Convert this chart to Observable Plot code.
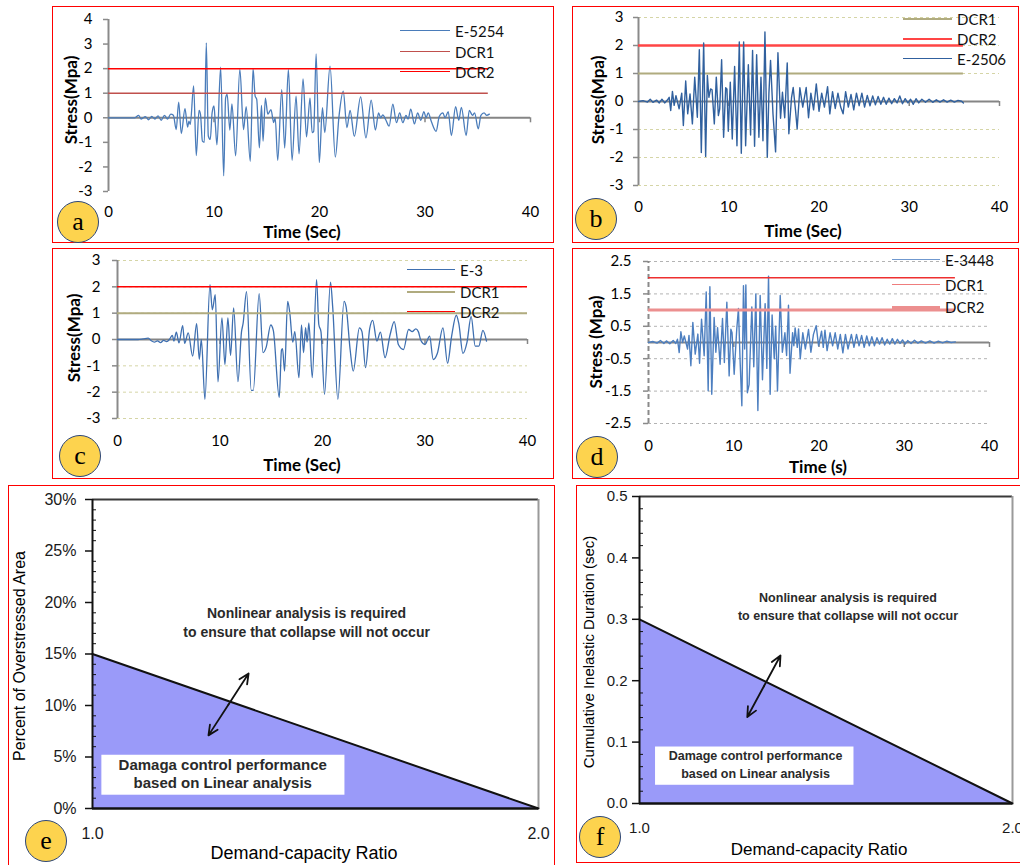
<!DOCTYPE html>
<html><head><meta charset="utf-8">
<script src="https://cdn.jsdelivr.net/npm/d3@7"></script>
<script src="https://cdn.jsdelivr.net/npm/@observablehq/plot@0.6"></script>
<style>
body{margin:0;background:#fff;width:1020px;height:865px;overflow:hidden;position:relative;font-family:Lato,sans-serif}
.border{position:absolute;border:1.5px solid #f00;box-sizing:border-box}
.plot{position:absolute}
.plot svg{background:transparent!important;overflow:visible}
.ttl{position:absolute;white-space:nowrap;transform:translate(-50%,-50%);color:#000}
.ytl{position:absolute;white-space:nowrap;transform:translate(-50%,-50%) rotate(-90deg);color:#000}
.legline{position:absolute;height:0}
.legtext{position:absolute;transform:translateY(-50%);font-size:15px;white-space:nowrap;color:#111}
.badge{position:absolute;border-radius:50%;background:#fdd34e;border:1.5px solid #2d4677;box-sizing:border-box;display:flex;align-items:center;justify-content:center;font-family:"Liberation Serif",serif;font-size:26px;color:#000;line-height:1}
</style></head><body>
<script>
// ---------------- data ----------------
const timeTicks = [0, 10, 20, 30, 40];
const axisTickTimes = [10, 20, 30, 40];

const namesA = ["E-5254", "DCR1", "DCR2"];
const dcrA = [1, 2];          // DCR1, DCR2
const yTicksA = [-3, -2, -1, 0, 1, 2, 3, 4];
const seriesA = [[0,0],[2.5,0],[2.85,0.1],[3.1,-0.05],[3.5,0.05],[3.8,-0.08],[4.1,0.06],[4.4,-0.05],[4.7,0.08],[5.0,-0.1],[5.3,0.1],[5.6,-0.05],[5.9,0.15],[6.15,0.1],[6.42,-0.48],[6.65,0.64],[6.9,-0.64],[7.25,0.37],[7.5,-0.38],[7.62,-0.14],[7.75,-0.27],[8.07,1.3],[8.32,-1.54],[8.58,0.3],[8.72,0.14],[8.9,-0.95],[9.08,-1.0],[9.27,3.05],[9.46,-0.74],[9.65,-0.88],[9.82,0.2],[10.0,0.48],[10.12,-0.2],[10.28,-1.1],[10.63,2.06],[10.92,-2.36],[11.1,0.8],[11.25,0.95],[11.5,-0.5],[11.7,0.57],[12.05,-1.55],[12.45,1.98],[12.8,-0.48],[13.05,0.45],[13.44,-1.77],[13.7,2.0],[13.9,0.88],[14.05,0.75],[14.3,-1.22],[14.5,0.5],[14.65,-0.95],[14.87,0.8],[15.1,0.15],[15.4,0.33],[15.66,-0.2],[15.8,0],[16.04,-1.73],[16.42,1.15],[16.7,-1.23],[17.05,1.97],[17.4,-1.73],[17.78,0.88],[18.06,-1.47],[18.44,1.58],[18.77,-0.78],[19.1,0.8],[19.3,-0.6],[19.45,-0.55],[19.68,2.6],[19.98,-1.82],[20.28,0.41],[20.5,-0.6],[21.0,2.1],[21.5,-1.6],[21.85,0.07],[22.25,1.08],[22.6,-0.4],[22.9,0.3],[23.3,-0.75],[23.9,0.85],[24.4,-0.82],[24.9,0.72],[25.3,-0.5],[25.6,0.2],[25.8,0.0],[26.0,0.12],[26.3,-0.1],[26.6,-0.34],[26.95,0.55],[27.3,-0.2],[27.6,0.2],[27.9,-0.2],[28.2,0.1],[28.4,-0.05],[28.65,0.35],[29.0,-0.25],[29.3,0.2],[29.6,-0.1],[29.9,0.25],[30.1,0.0],[30.3,0.2],[30.6,-0.15],[31.05,-0.55],[31.35,0.05],[31.7,0.2],[31.9,0.0],[32.2,0.25],[32.5,-0.72],[32.9,0.45],[33.2,-0.1],[33.45,0.42],[33.9,-0.72],[34.2,0.3],[34.5,0.1],[34.7,0.2],[35.05,-0.45],[35.3,0.1],[35.6,0.2],[35.85,0.1],[36.1,0.15]];

const namesB = ["DCR1", "DCR2", "E-2506"];
const dcrB = [1, 2];
const yTicksB = [-3, -2, -1, 0, 1, 2, 3];
const seriesB = [[0,0],[0.5,0.03],[1.0,-0.02],[1.3,0.08],[1.6,-0.03],[2.0,0.05],[2.3,-0.05],[2.6,0.08],[2.9,-0.05],[3.2,0.05],[3.4,0.15],[3.57,-0.32],[3.76,0.36],[3.95,-0.14],[4.15,0.21],[4.5,-0.26],[4.79,0.3],[4.97,-0.86],[5.23,0.73],[5.45,-0.44],[5.71,0.27],[5.97,-0.8],[6.23,0.87],[6.52,-0.56],[6.74,1.85],[6.96,-1.82],[7.22,2.09],[7.44,-1.96],[7.63,0.93],[7.8,0.15],[7.99,0.45],[8.15,0.42],[8.4,-0.8],[8.62,0.87],[8.85,-0.5],[9.0,-0.26],[9.21,1.49],[9.43,-1.28],[9.66,0.49],[9.8,0.45],[9.95,-1.06],[10.17,0.69],[10.39,-1.34],[10.65,1.25],[10.91,-1.58],[11.17,2.13],[11.39,-1.85],[11.65,2.13],[11.87,-1.58],[12.17,1.31],[12.42,-1.2],[12.64,1.82],[12.86,-1.6],[13.09,1.67],[13.34,-1.28],[13.57,0.87],[13.79,-1.4],[14.01,2.48],[14.27,-1.99],[14.45,0.3],[14.63,1.47],[14.9,-0.44],[15.19,-1.8],[15.45,1.74],[15.74,-0.6],[15.95,0.33],[16.2,-0.58],[16.48,1.38],[16.66,-1.15],[16.96,0.15],[17.14,0.5],[17.4,-0.32],[17.58,-0.98],[17.88,0.49],[18.2,-0.2],[18.58,0.5],[18.84,-0.58],[19.1,0.3],[19.4,-0.3],[19.7,0.63],[20.0,-0.35],[20.3,0.3],[20.6,-0.2],[20.95,0.53],[21.2,-0.44],[21.5,0.35],[21.8,-0.25],[22.1,0.3],[22.4,-0.2],[22.67,-0.44],[22.95,0.35],[23.25,-0.2],[23.55,0.25],[23.85,-0.3],[24.15,0.3],[24.45,-0.15],[24.75,0.3],[25.05,-0.2],[25.35,0.22],[25.65,-0.15],[25.95,0.2],[26.25,-0.12],[26.55,0.18],[26.85,-0.1],[27.15,0.15],[27.45,-0.1],[27.75,0.12],[28.05,-0.08],[28.35,0.1],[28.65,-0.05],[28.95,0.2],[29.25,-0.08],[29.55,0.1],[29.85,-0.05],[30.15,0.08],[30.45,-0.1],[30.75,0.1],[31.05,-0.05],[31.4,0.08],[31.8,-0.03],[32.2,0.08],[32.6,-0.03],[33.0,0.06],[33.4,-0.02],[33.8,0.06],[34.2,-0.02],[34.6,0.05],[35.0,-0.02],[35.4,0.04],[35.8,0.01],[36.0,-0.05]];

const namesC = ["E-3", "DCR1", "DCR2"];
const dcrC = [1, 2];
const yTicksC = [-3, -2, -1, 0, 1, 2, 3];
const seriesC = [[0,0],[2.0,0.0],[2.5,0.02],[3.0,0.05],[3.3,-0.05],[3.6,-0.1],[3.9,-0.05],[4.2,-0.12],[4.5,-0.03],[4.8,-0.08],[5.1,0.02],[5.35,0.16],[5.5,-0.06],[5.74,0.28],[6.0,-0.13],[6.36,0.53],[6.55,-0.15],[6.9,0.25],[7.33,-0.63],[7.72,0.6],[7.98,-0.75],[8.18,0.0],[8.53,-2.27],[9.02,2.08],[9.25,1.13],[9.54,1.7],[9.8,-1.61],[10.19,0.82],[10.48,-0.95],[10.77,0.82],[11.03,-0.6],[11.33,1.2],[11.75,-1.6],[12.1,0.3],[12.25,0.6],[12.59,1.82],[13.05,-1.93],[13.25,-1.93],[13.82,1.74],[14.2,-0.5],[14.5,-0.3],[14.95,0.55],[15.2,0.35],[15.78,-2.2],[16.0,-0.4],[16.1,-0.35],[16.3,-1.2],[16.6,1.45],[16.8,1.05],[17.1,-0.1],[17.3,0.3],[17.7,-1.45],[17.95,0.55],[18.15,-0.5],[18.35,0.45],[18.5,-0.1],[18.67,0.63],[19.0,-1.45],[19.42,2.27],[19.64,0.57],[19.85,0.3],[20.2,-2.08],[20.78,2.18],[21.0,1.2],[21.5,-2.27],[22.1,1.45],[22.3,1.25],[22.7,-0.4],[23.0,-1.2],[23.6,0.44],[23.85,0.3],[24.2,-1.07],[24.6,0.4],[24.9,0.73],[25.3,-0.06],[25.65,0.28],[26.1,-0.69],[26.6,0.19],[27.0,0.68],[27.4,-0.19],[27.9,-0.38],[28.4,0.38],[28.75,0.3],[29.1,0.4],[29.35,0.3],[29.6,-0.04],[30.0,-0.19],[30.45,0.13],[30.8,-0.76],[31.2,-0.53],[31.75,0.44],[32.2,-0.9],[32.6,0.13],[33.05,0.92],[33.3,0.6],[33.7,-0.53],[34.1,-0.1],[34.5,0.88],[34.9,-0.25],[35.25,-0.25],[35.65,0.35],[36.0,-0.06]];

const namesD = ["E-3448", "DCR1", "DCR2"];
const dcrD = [2, 1];
const yTicksD = [-2.5, -1.5, -0.5, 0.5, 1.5, 2.5];
const seriesD = [[0,0],[0.5,0.03],[1.0,-0.02],[1.4,0.06],[1.8,-0.03],[2.1,0.05],[2.5,-0.04],[2.9,0.06],[3.2,-0.03],[3.4,0.1],[3.6,-0.31],[3.8,0.33],[4.0,0.0],[4.2,0.2],[4.58,-0.2],[4.75,0.22],[4.97,-0.72],[5.2,0.62],[5.48,-0.36],[5.79,0.26],[5.99,-0.64],[6.22,0.72],[6.53,-0.41],[6.77,1.56],[7.0,-1.49],[7.2,1.72],[7.42,-1.6],[7.7,0.77],[7.9,-0.3],[8.1,0.46],[8.4,-0.67],[8.68,0.74],[8.9,-0.62],[9.19,1.24],[9.46,-1.03],[9.66,0.41],[9.8,0.3],[10.05,-0.98],[10.35,0.4],[10.55,1.05],[10.75,-0.6],[10.95,-1.95],[11.14,1.75],[11.28,-0.2],[11.42,1.78],[11.6,-1.55],[11.8,-1.3],[12.12,1.1],[12.35,-0.75],[12.59,1.5],[12.83,-2.1],[13.1,1.45],[13.37,-1.15],[13.68,1.2],[13.88,-0.8],[14.08,2.05],[14.27,-1.6],[14.5,0.85],[14.75,-0.5],[14.92,0.5],[15.13,-1.5],[15.45,1.45],[15.7,-0.3],[16.0,0.3],[16.2,-0.4],[16.42,1.15],[16.6,-0.95],[16.9,0.3],[17.05,-0.1],[17.2,0.45],[17.45,-0.15],[17.6,0.42],[17.8,-0.5],[18.1,0.3],[18.4,-0.2],[18.77,0.4],[19.05,-0.3],[19.35,0.25],[19.67,0.52],[19.95,-0.1],[20.3,0.35],[20.5,-0.15],[20.7,0.38],[20.95,-0.25],[21.3,0.3],[21.6,-0.1],[21.9,0.3],[22.2,-0.2],[22.5,0.25],[22.8,-0.32],[23.1,0.25],[23.4,-0.2],[23.8,0.25],[24.1,-0.15],[24.4,0.25],[24.7,-0.1],[25.0,0.22],[25.3,-0.15],[25.6,0.2],[25.9,-0.1],[26.2,0.18],[26.5,-0.1],[26.8,0.15],[27.1,-0.05],[27.4,0.15],[27.7,-0.08],[28.0,0.1],[28.3,-0.05],[28.6,0.12],[28.9,-0.05],[29.2,0.1],[29.5,-0.03],[29.8,0.08],[30.1,-0.05],[30.4,0.06],[30.8,-0.03],[31.2,0.07],[31.6,-0.02],[32.0,0.05],[32.5,-0.02],[33.0,0.05],[33.5,-0.02],[34.0,0.04],[34.5,-0.01],[35.0,0.04],[35.5,0.0],[36.0,0.02]];

const ratioTicks = [1, 2];
const pctTicks = [0, 5, 10, 15, 20, 25, 30];
const pctMinor = [1,2,3,4,6,7,8,9,11,12,13,14,16,17,18,19,21,22,23,24,26,27,28,29];
const boundaryE = [[1, 15], [2, 0]];
const durTicks = [0, 0.1, 0.2, 0.3, 0.4, 0.5];
const durMinor = [0.02,0.04,0.06,0.08,0.12,0.14,0.16,0.18,0.22,0.24,0.26,0.28,0.32,0.34,0.36,0.38,0.42,0.44,0.46,0.48];
const boundaryF = [[1, 0.3], [2, 0]];
const noteUpper = ["Nonlinear analysis is required", "to ensure that collapse will not occur"];
const noteLowerE = ["Damaga control performance", "based on Linear analysis"];
const noteLowerF = ["Damage control performance", "based on Linear analysis"];

// ---------------- helpers ----------------
function el(cls, css, text) {
  const d = document.createElement("div");
  d.className = cls;
  Object.assign(d.style, css);
  if (text != null) d.textContent = text;
  document.body.appendChild(d);
  return d;
}
function place(svg, L, T) {
  const holder = el("plot", {left: L + "px", top: T + "px"});
  holder.appendChild(svg);
}
function border(L, T, W, H) { el("border", {left: L+"px", top: T+"px", width: W+"px", height: H+"px"}); }
function badge(cx, cy, r, letter) {
  el("badge", {left: (cx - r) + "px", top: (cy - r) + "px", width: 2*r + "px", height: 2*r + "px"}, letter);
}
function xTitle(cx, cy, text, size, family, weight) {
  el("ttl", {left: cx+"px", top: cy+"px", fontSize: size+"px", fontFamily: family, fontWeight: weight}, text);
}
function yTitle(cx, cy, text, size, family, weight) {
  el("ytl", {left: cx+"px", top: cy+"px", fontSize: size+"px", fontFamily: family, fontWeight: weight}, text);
}
function legend(x0, x1, tx, rows) {
  rows.forEach(r => {
    el("legline", {left: x0+"px", top: (r.y - r.w/2)+"px", width: (x1-x0)+"px", borderTop: r.w + "px solid " + r.color});
    el("legtext", {left: tx+"px", top: r.y+"px"}, r.name);
  });
}
const plain = d => String(d);

function stressPanel(c) {
  const marks = [];
  if (c.grid) marks.push(Plot.ruleY(c.gridValues, {x1: timeTicks[0], x2: timeTicks[4], stroke: c.grid, strokeWidth: 1, strokeDasharray: "3,3"}));
  marks.push(Plot.ruleX([0], {y1: c.yDomain[0], y2: c.yDomain[1], stroke: "#8a8a8a", strokeWidth: 2, strokeDasharray: c.yDash || null}));
  marks.push(Plot.ruleY(c.yTicks, {x1: 0, x2: 0, insetLeft: -5, stroke: "#8a8a8a", strokeWidth: 1.5}));
  marks.push(Plot.ruleY([0], {x1: timeTicks[0], x2: timeTicks[4], stroke: "#858585", strokeWidth: 2}));
  marks.push(Plot.ruleX(axisTickTimes, {y1: 0, y2: 0, insetBottom: -5, stroke: "#858585", strokeWidth: 1.5}));
  c.order.forEach(o => {
    if (o.kind === "series") marks.push(Plot.line(c.series, {x: d => d[0], y: d => d[1], stroke: o.color, strokeWidth: o.w, curve: c.curve}));
    else marks.push(Plot.ruleY([o.value], {x1: 0, x2: c.dcrEnd, stroke: o.color, strokeWidth: o.w}));
  });
  const svg = Plot.plot({
    width: c.W, height: c.H,
    marginLeft: c.fx0 - c.L, marginRight: c.L + c.W - c.fx1,
    marginTop: c.fy0 - c.T, marginBottom: c.T + c.H - c.fy1,
    x: {domain: [0, 40], ticks: timeTicks, tickFormat: plain, tickSize: 0, tickPadding: c.xPad, label: null},
    y: {domain: c.yDomain, ticks: c.yTicks, tickFormat: plain, tickSize: 0, tickPadding: c.yPad, label: null},
    style: {fontFamily: "Lato", fontSize: "15px", color: "#000", background: "transparent", overflow: "visible"},
    marks
  });
  place(svg, c.L, c.T);
}

function boundaryPanel(c) {
  const X = d => d[0], Y = d => d[1];
  const mid = {x: (c.arrow.x1 + c.arrow.x2) / 2, y: (c.arrow.y1 + c.arrow.y2) / 2};
  const arrowParts = [{x1: mid.x, y1: mid.y, x2: c.arrow.x1, y2: c.arrow.y1}, {x1: mid.x, y1: mid.y, x2: c.arrow.x2, y2: c.arrow.y2}];
  const svg = Plot.plot({
    width: c.W, height: c.H,
    marginLeft: c.fx0 - c.L, marginRight: c.L + c.W - c.fx1,
    marginTop: c.fy0 - c.T, marginBottom: c.T + c.H - c.fy1,
    x: {domain: [1, 2], ticks: ratioTicks, tickFormat: d3.format(".1f"), tickSize: 0, tickPadding: c.xPad, label: null},
    y: {domain: [0, c.yMax], ticks: c.ticks, tickFormat: c.fmt, tickSize: 0, tickPadding: c.yPad, label: null},
    style: {fontFamily: "Liberation Sans", fontSize: c.tickFont + "px", color: "#1a1a1a", background: "transparent", overflow: "visible"},
    marks: [
      Plot.areaY(c.boundary, {x: X, y: Y, fill: "#9a9af9"}),
      Plot.ruleY([c.yMax], {x1: 1, x2: 2, stroke: "#3a3a3a", strokeWidth: 2}),
      Plot.ruleX([2], {y1: 0, y2: c.yMax, stroke: "#9a9a9a", strokeWidth: 2}),
      Plot.ruleX([1], {y1: 0, y2: c.yMax, stroke: "#111", strokeWidth: 2}),
      Plot.ruleY([0], {x1: 1, x2: 2, stroke: "#111", strokeWidth: 2.5}),
      Plot.ruleY(c.ticks, {x1: 1, x2: 1, insetLeft: -7, stroke: "#111", strokeWidth: 1.5}),
      Plot.ruleY(c.minor, {x1: 1, x2: 1, insetRight: -4, stroke: "#111", strokeWidth: 1}),
      Plot.line(c.boundary, {x: X, y: Y, stroke: "#111", strokeWidth: 2}),
      Plot.rect([c.box], {x1: "x1", x2: "x2", y1: "y1", y2: "y2", fill: "white"}),
      Plot.text(c.lower, {x: c.lowerAt[0], y: (d, i) => c.lowerAt[1][i], text: d => d, fontWeight: "bold", fontSize: c.lowerFont, fill: "#2a2a2a"}),
      Plot.text(noteUpper, {x: c.upperAt[0], y: (d, i) => c.upperAt[1][i], text: d => d, fontWeight: "bold", fontSize: c.upperFont, fill: "#2a2a2a"}),
      Plot.arrow(arrowParts, {x1: "x1", y1: "y1", x2: "x2", y2: "y2", stroke: "#111", strokeWidth: 1.8, headLength: 9, headAngle: 50})
    ]
  });
  place(svg, c.L, c.T);
}

// ---------------- panel a ----------------
border(52, 6, 502, 237);
stressPanel({L: 52, T: 6, W: 502, H: 237, fx0: 108, fx1: 530, fy0: 19, fy1: 191,
  yDomain: [-3, 4], yTicks: yTicksA, xPad: 15, yPad: 16, curve: "monotone-x", series: seriesA, dcrEnd: 36,
  order: [{kind: "series", color: "#4a7cba", w: 1.3}, {kind: "dcr", value: dcrA[0], color: "#c0504d", w: 1.5}, {kind: "dcr", value: dcrA[1], color: "#ff0000", w: 1.5}]});
legend(400, 450, 455, [{y: 31, color: "#4a7cba", w: 1.5, name: namesA[0]}, {y: 52, color: "#c0504d", w: 1.5, name: namesA[1]}, {y: 72, color: "#ff0000", w: 1.5, name: namesA[2]}]);
xTitle(302, 231, "Time (Sec)", 17, "Lato", "bold");
yTitle(70, 100, "Stress(Mpa)", 17, "Lato", "bold");

// ---------------- panel b ----------------
border(572, 6, 447, 237);
stressPanel({L: 572, T: 6, W: 446, H: 237, fx0: 638, fx1: 999, fy0: 17, fy1: 185,
  yDomain: [-3, 3], yTicks: yTicksB, grid: "#d5d5a6", gridValues: yTicksB.filter(v => v !== 0), xPad: 16, yPad: 15, curve: "linear", series: seriesB, dcrEnd: 36,
  order: [{kind: "dcr", value: dcrB[0], color: "#b0ab7f", w: 2}, {kind: "dcr", value: dcrB[1], color: "#ff4545", w: 2.5}, {kind: "series", color: "#30609e", w: 1.4}]});
legend(903, 952, 957, [{y: 19, color: "#b0ab7f", w: 2, name: namesB[0]}, {y: 39, color: "#ff4545", w: 2.5, name: namesB[1]}, {y: 59, color: "#30609e", w: 1.5, name: namesB[2]}]);
xTitle(803, 230, "Time (Sec)", 17, "Lato", "bold");
yTitle(597, 100, "Stress(Mpa)", 17, "Lato", "bold");

// ---------------- panel c ----------------
border(52, 248, 502, 231);
stressPanel({L: 52, T: 248, W: 502, H: 231, fx0: 117, fx1: 527, fy0: 260, fy1: 418,
  yDomain: [-3, 3], yTicks: yTicksC, grid: "#d5d5a6", gridValues: yTicksC.filter(v => v !== 0), xPad: 17, yPad: 17, curve: "monotone-x", series: seriesC, dcrEnd: 40,
  order: [{kind: "series", color: "#3e6fb0", w: 1.3}, {kind: "dcr", value: dcrC[0], color: "#b0ab7f", w: 2}, {kind: "dcr", value: dcrC[1], color: "#ff0000", w: 1.5}]});
legend(407, 455, 460, [{y: 270, color: "#3e6fb0", w: 1.5, name: namesC[0]}, {y: 292, color: "#b0ab7f", w: 2, name: namesC[1]}, {y: 312, color: "#ff0000", w: 1.5, name: namesC[2]}]);
xTitle(302, 464, "Time (Sec)", 17, "Lato", "bold");
yTitle(73, 338, "Stress(Mpa)", 17, "Lato", "bold");

// ---------------- panel d ----------------
border(572, 248, 447, 231);
stressPanel({L: 572, T: 248, W: 446, H: 231, fx0: 648, fx1: 989, fy0: 261, fy1: 423,
  yDomain: [-2.5, 2.5], yTicks: yTicksD, grid: "#b3b3b3", gridValues: yTicksD, yDash: "5,3", xPad: 17, yPad: 17, curve: "linear", series: seriesD, dcrEnd: 36,
  order: [{kind: "series", color: "#4d7fc0", w: 1.4}, {kind: "dcr", value: dcrD[0], color: "#ee3030", w: 1.5}, {kind: "dcr", value: dcrD[1], color: "#ec8f8f", w: 3}]});
legend(892, 940, 945, [{y: 260, color: "#6f98cf", w: 1.5, name: namesD[0]}, {y: 285, color: "#ef7d7d", w: 1.5, name: namesD[1]}, {y: 307, color: "#ec8f8f", w: 3, name: namesD[2]}]);
xTitle(818, 466, "Time (s)", 17, "Lato", "bold");
yTitle(595, 342, "Stress (Mpa)", 17, "Lato", "bold");

// ---------------- panel e ----------------
border(8, 485, 547, 385);
boundaryPanel({L: 8, T: 485, W: 547, H: 380, fx0: 92, fx1: 538, fy0: 499, fy1: 808,
  yMax: 30, ticks: pctTicks, minor: pctMinor, fmt: d => d + "%", boundary: boundaryE, tickFont: 16, xPad: 19, yPad: 16,
  box: {x1: 1.021, x2: 1.566, y1: 1.29, y2: 5.17}, lower: noteLowerE, lowerAt: [1.292, [4.2, 2.45]], lowerFont: 15,
  upperAt: [1.48, [18.94, 17.1]], upperFont: 14, arrow: {x1: 1.26, y1: 7.1, x2: 1.35, y2: 13.1}});
xTitle(304, 853, "Demand-capacity Ratio", 18, "Liberation Sans", "normal");
yTitle(20, 656, "Percent of Overstressed Area", 16, "Liberation Sans", "normal");

// ---------------- panel f ----------------
border(576, 485, 450, 378);
boundaryPanel({L: 576, T: 485, W: 444, H: 380, fx0: 639, fx1: 1012, fy0: 496, fy1: 803,
  yMax: 0.5, ticks: durTicks, minor: durMinor, fmt: d3.format(".1f"), boundary: boundaryF, tickFont: 15, xPad: 19, yPad: 12,
  box: {x1: 1.043, x2: 1.575, y1: 0.0297, y2: 0.092}, lower: noteLowerF, lowerAt: [1.311, [0.0769, 0.0476]], lowerFont: 12.5,
  upperAt: [1.559, [0.335, 0.306]], upperFont: 12.5, arrow: {x1: 1.289, y1: 0.1408, x2: 1.378, y2: 0.241}});
xTitle(819, 850, "Demand-capacity Ratio", 17, "Liberation Sans", "normal");
yTitle(588, 652, "Cumulative Inelastic Duration (sec)", 15, "Liberation Sans", "normal");

// ---------------- badges ----------------
badge(78, 222, 21, "a");
badge(596, 219, 21, "b");
badge(80, 456, 21, "c");
badge(597, 457, 21, "d");
badge(46, 841, 21, "e");
badge(600, 837, 21, "f");
</script>
</body></html>
